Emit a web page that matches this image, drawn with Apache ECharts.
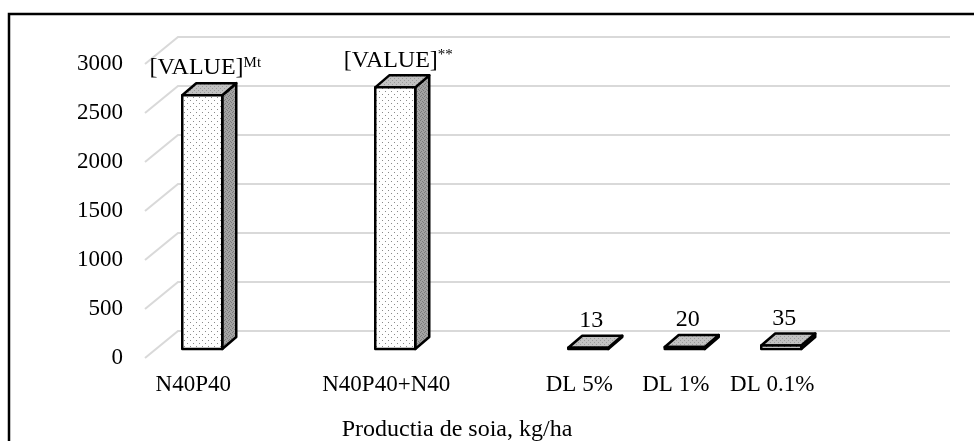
<!DOCTYPE html>
<html>
<head>
<meta charset="utf-8">
<script src="https://cdn.jsdelivr.net/npm/echarts@6/dist/echarts.min.js"></script>
<style>
  html, body { margin: 0; padding: 0; background: #fff; }
  #chart { width: 974px; height: 441px; }
</style>
</head>
<body>
<div id="chart"></div>
<script>
// categories (blank slots keep the uneven spacing of the original)
const categories = ['N40P40', '', 'N40P40+N40', '', 'DL 5%', 'DL 1%', 'DL 0.1%', ''];
const values = [2590, null, 2670, null, 13, 20, 35, null];
const valueLabels = ['[VALUE]', '', '[VALUE]', '', '13', '20', '35', ''];
const labelSup = ['Mt', '', '**', '', '', '', '', ''];
const yTicks = [0, 500, 1000, 1500, 2000, 2500, 3000];
const xTitle = 'Productia de soia, kg/ha';

const font = 'Liberation Serif';

// small dotted textures like the Excel fills
function makePattern(bg, dot, pts, size) {
    const c = document.createElement('canvas');
    c.width = size; c.height = size;
    const ctx = c.getContext('2d');
    ctx.fillStyle = bg;
    ctx.fillRect(0, 0, size, size);
    ctx.fillStyle = dot;
    pts.forEach(p => ctx.fillRect(p[0], p[1], 1, 1));
    return { image: c, repeat: 'repeat' };
}
const frontFill = makePattern('#ffffff', '#8a8a8a', [[1, 1], [4, 4]], 6);
const sideFill = makePattern('#a3a3a3', '#7a7a7a', [[0, 0], [2, 1], [1, 3], [3, 2]], 4);
const topFill = makePattern('#c2c2c2', '#9a9a9a', [[0, 0], [2, 2]], 4);

const depth = { dx: 33, dy: -27 };      // floor depth (front -> back wall)
const barDepth = { dx: 14, dy: -12 };   // bar depth

const chart = echarts.init(document.getElementById('chart'));

const barData = [];
values.forEach((v, i) => { if (v !== null) barData.push([i, v]); });

const option = {
    backgroundColor: '#fff',
    animation: false,
    grid: { left: 145, right: 57, top: 64, bottom: 83 },
    xAxis: {
        type: 'category',
        data: categories,
        axisLine: { show: false },
        axisTick: { show: false },
        axisLabel: {
            color: '#000',
            fontFamily: font,
            fontSize: 23,
            margin: 15,
            interval: 0
        }
    },
    yAxis: {
        type: 'value',
        min: 0,
        max: 3000,
        interval: 500,
        axisLine: { show: false },
        axisTick: { show: false },
        splitLine: { show: false },
        axisLabel: {
            color: '#000',
            fontFamily: font,
            fontSize: 23,
            margin: 22,
            formatter: v => String(v)
        }
    },
    graphic: [
        {
            type: 'rect',
            shape: { x: 9, y: 14, width: 1200, height: 600 },
            style: { fill: 'none', stroke: '#000', lineWidth: 2.5 },
            z: 10
        },
        {
            type: 'text',
            x: 457,
            y: 430,
            style: {
                text: xTitle,
                fill: '#000',
                font: '24px "Liberation Serif"',
                align: 'center',
                verticalAlign: 'middle'
            }
        }
    ],
    series: [
        {
            // floor diagonals + back wall gridlines
            type: 'custom',
            data: yTicks.map(t => [0, t]),
            encode: { x: 0, y: 1 },
            silent: true,
            z: 1,
            renderItem(params, api) {
                const cs = params.coordSys;
                const y = api.coord([0, api.value(1)])[1];
                return {
                    type: 'polyline',
                    shape: {
                        points: [
                            [cs.x, y],
                            [cs.x + depth.dx, y + depth.dy],
                            [cs.x + cs.width + depth.dx, y + depth.dy]
                        ]
                    },
                    style: { stroke: '#d9d9d9', lineWidth: 2, fill: null }
                };
            }
        },
        {
            // 3D looking columns
            type: 'custom',
            data: barData,
            encode: { x: 0, y: 1 },
            z: 2,
            renderItem(params, api) {
                const idx = api.value(0);
                const base = api.coord([idx, 0]);
                const top = api.coord([idx, api.value(1)]);
                const w = 40;
                const fx = base[0] + 9 - w / 2;
                const by = base[1] - 9;
                const ty = top[1] - 9;
                const dx = barDepth.dx, dy = barDepth.dy;
                const stroke = { stroke: '#000', lineWidth: 2.5, lineJoin: 'round' };
                const sup = labelSup[idx];
                const txt = sup
                    ? '{a|' + valueLabels[idx] + '}{b|' + sup + '}'
                    : '{a|' + valueLabels[idx] + '}';
                return {
                    type: 'group',
                    children: [
                        {
                            type: 'polygon',
                            shape: { points: [[fx + w, ty], [fx + w + dx, ty + dy], [fx + w + dx, by + dy], [fx + w, by]] },
                            style: Object.assign({ fill: sideFill }, stroke)
                        },
                        {
                            type: 'polygon',
                            shape: { points: [[fx, ty], [fx + dx, ty + dy], [fx + w + dx, ty + dy], [fx + w, ty]] },
                            style: Object.assign({ fill: topFill }, stroke)
                        },
                        {
                            type: 'rect',
                            shape: { x: fx, y: ty, width: w, height: Math.max(by - ty, 0) },
                            style: Object.assign({ fill: frontFill }, stroke)
                        },
                        {
                            type: 'text',
                            x: fx + w / 2 + 3,
                            y: ty + dy - 3,
                            style: {
                                text: txt,
                                align: 'center',
                                verticalAlign: 'bottom',
                                rich: {
                                    a: { fontFamily: font, fontSize: 24, fill: '#000', color: '#000', verticalAlign: 'bottom' },
                                    b: { fontFamily: font, fontSize: 15, fill: '#000', color: '#000', verticalAlign: 'top', padding: [0, 0, 10, 0] }
                                }
                            }
                        }
                    ]
                };
            }
        }
    ]
};

chart.setOption(option);
window.addEventListener('resize', () => chart.resize());
</script>
</body>
</html>
